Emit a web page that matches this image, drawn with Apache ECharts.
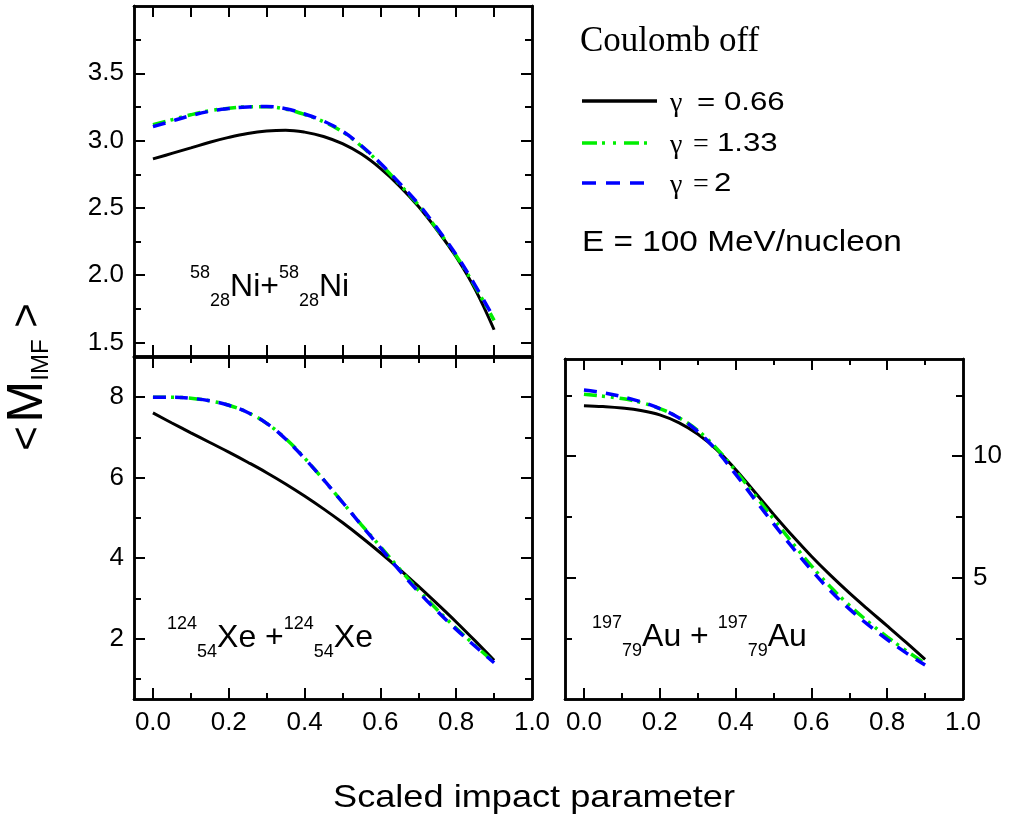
<!DOCTYPE html>
<html>
<head>
<meta charset="utf-8">
<script src="https://cdn.jsdelivr.net/npm/echarts@6/dist/echarts.min.js"></script>
<style>html,body{margin:0;padding:0;background:#fff}#c{width:1011px;height:821px}</style>
</head>
<body>
<div id="c"></div>
<script>
// ---- data ----
const impact = [0.0, 0.05, 0.1, 0.15, 0.2, 0.25, 0.3, 0.35, 0.4, 0.45, 0.5, 0.55, 0.6, 0.65, 0.7, 0.75, 0.8, 0.85, 0.9];
const niG066 = [2.864, 2.905, 2.946, 2.988, 3.024, 3.053, 3.071, 3.077, 3.063, 3.031, 2.977, 2.90, 2.794, 2.664, 2.512, 2.334, 2.135, 1.895, 1.595];
const niG133 = [3.119, 3.155, 3.192, 3.222, 3.24, 3.251, 3.252, 3.234, 3.194, 3.14, 3.065, 2.958, 2.826, 2.678, 2.522, 2.34, 2.145, 1.915, 1.665];
const niG2   = [3.104, 3.145, 3.186, 3.218, 3.238, 3.25, 3.253, 3.237, 3.198, 3.145, 3.07, 2.962, 2.832, 2.685, 2.53, 2.348, 2.152, 1.925, 1.68];
const xeG066 = [7.61, 7.36, 7.115, 6.875, 6.635, 6.385, 6.125, 5.845, 5.545, 5.225, 4.885, 4.52, 4.135, 3.73, 3.305, 2.865, 2.415, 1.945, 1.46];
const xeG133 = [8.00, 8.00, 7.975, 7.91, 7.80, 7.62, 7.35, 6.97, 6.49, 5.95, 5.39, 4.83, 4.29, 3.74, 3.21, 2.72, 2.26, 1.83, 1.41];
const xeG2   = [8.00, 8.00, 7.975, 7.91, 7.80, 7.62, 7.35, 6.96, 6.48, 5.95, 5.39, 4.82, 4.26, 3.70, 3.17, 2.68, 2.23, 1.81, 1.40];
const auG066 = [12.08, 12.04, 11.98, 11.88, 11.70, 11.38, 10.91, 10.27, 9.45, 8.53, 7.61, 6.72, 5.88, 5.10, 4.37, 3.68, 3.01, 2.33, 1.63];
const auG133 = [12.55, 12.47, 12.37, 12.21, 11.96, 11.59, 11.06, 10.32, 9.40, 8.42, 7.42, 6.43, 5.48, 4.62, 3.86, 3.18, 2.56, 1.99, 1.47];
const auG2   = [12.72, 12.61, 12.45, 12.24, 11.96, 11.58, 11.02, 10.23, 9.26, 8.23, 7.22, 6.24, 5.31, 4.46, 3.71, 3.05, 2.45, 1.90, 1.40];

const xMajor = [0, 0.2, 0.4, 0.6, 0.8];
const xMinor = [0.1, 0.3, 0.5, 0.7, 0.9];
const xLabels = [0, 0.2, 0.4, 0.6, 0.8, 1.0];
const niYMajor = [1.5, 2.0, 2.5, 3.0, 3.5];
const niYMinor = [1.75, 2.25, 2.75, 3.25, 3.75];
const xeYMajor = [2, 4, 6, 8];
const xeYMinor = [1, 3, 5, 7];
const auYMajor = [5, 10];
const auYMinor = [2.5, 7.5, 12.5];

const seriesNames = ['γ = 0.66', 'γ = 1.33', 'γ = 2'];
const legendValues = ['0.66', '1.33', '2'];

// ---- styling ----
const SANS = "'Liberation Sans', Arial, sans-serif";
const SERIF = "'Liberation Serif', 'Times New Roman', serif";
const styles = [
  {color: '#000000', width: 3, type: 'solid'},
  {color: '#00ee00', width: 3.5, type: [13, 5, 3, 6, 3, 6]},
  {color: '#0000ff', width: 3.5, type: [13, 9]}
];

const chart = echarts.init(document.getElementById('c'));

const xAxes = [], yAxes = [];
function mkX(grid, position, ticks, len, labels) {
  xAxes.push({
    type: 'value', gridIndex: grid, position: position, min: -0.05, max: 1.0,
    axisLine: {show: true, onZero: false, lineStyle: {color: '#000', width: 2.5}},
    axisTick: {show: true, inside: true, length: len, customValues: ticks, lineStyle: {color: '#000', width: 2}},
    axisLabel: labels ? {show: true, customValues: labels, formatter: v => v.toFixed(1), fontSize: 26, color: '#000', fontFamily: SANS, margin: 11} : {show: false},
    splitLine: {show: false}
  });
  return xAxes.length - 1;
}
function mkY(grid, position, min, max, ticks, len, labels, fmt) {
  yAxes.push({
    type: 'value', gridIndex: grid, position: position, min: min, max: max,
    axisLine: {show: true, onZero: false, lineStyle: {color: '#000', width: 2.5}},
    axisTick: {show: true, inside: true, length: len, customValues: ticks, lineStyle: {color: '#000', width: 2}},
    axisLabel: labels ? {show: true, customValues: labels, formatter: fmt, fontSize: 26, color: '#000', fontFamily: SANS, margin: 10} : {show: false},
    splitLine: {show: false}
  });
  return yAxes.length - 1;
}

const panels = [
  {grid: 0, ymin: 1.4, ymax: 4.0, yMaj: niYMajor, yMin: niYMinor, yLab: 'left', fmt: v => v.toFixed(1), xLab: false, xAllSame: true, data: [niG066, niG133, niG2]},
  {grid: 1, ymin: 0.5, ymax: 9.0, yMaj: xeYMajor, yMin: xeYMinor, yLab: 'left', fmt: v => String(v), xLab: true, xAllSame: false, data: [xeG066, xeG133, xeG2]},
  {grid: 2, ymin: 0, ymax: 14, yMaj: auYMajor, yMin: auYMinor, yLab: 'right', fmt: v => String(v), xLab: true, xAllSame: false, data: [auG066, auG133, auG2]}
];

const series = [];
panels.forEach(p => {
  const minLen = p.xAllSame ? 11 : 6;
  const xb = mkX(p.grid, 'bottom', xMajor, 11, p.xLab ? xLabels : null);
  mkX(p.grid, 'bottom', xMinor, minLen, null);
  mkX(p.grid, 'top', xMajor, 11, null);
  mkX(p.grid, 'top', xMinor, minLen, null);
  const yl = mkY(p.grid, 'left', p.ymin, p.ymax, p.yMaj, 11, p.yLab === 'left' ? p.yMaj : null, p.fmt);
  mkY(p.grid, 'left', p.ymin, p.ymax, p.yMin, 7, null);
  mkY(p.grid, 'right', p.ymin, p.ymax, p.yMaj, 11, p.yLab === 'right' ? p.yMaj : null, p.fmt);
  mkY(p.grid, 'right', p.ymin, p.ymax, p.yMin, 7, null);
  p.data.forEach((arr, k) => {
    series.push({
      name: seriesNames[k], type: 'line', xAxisIndex: xb, yAxisIndex: yl,
      data: impact.map((x, i) => [x, arr[i]]),
      smooth: 0.4, symbol: 'none', showSymbol: false, z: 2 + k,
      lineStyle: {color: styles[k].color, width: styles[k].width, type: styles[k].type, cap: 'butt'}
    });
  });
});

const annRich = {
  m: {fontSize: 32, fontFamily: SANS, color: '#000', lineHeight: 46, verticalAlign: 'middle'},
  sup: {fontSize: 18, fontFamily: SANS, color: '#000', lineHeight: 18, verticalAlign: 'top'},
  sub: {fontSize: 18, fontFamily: SANS, color: '#000', lineHeight: 14, verticalAlign: 'bottom'}
};
function ann(x, y, text) {
  return {type: 'text', x: x, y: y, z: 10, style: {text: text, rich: annRich, align: 'left', verticalAlign: 'top', fill: '#000'}};
}
function txt(x, y, text, font, sx) {
  return {type: 'text', x: x, y: y, z: 10, scaleX: sx || 1, style: {text: text, font: font, align: 'left', verticalAlign: 'middle', fill: '#000'}};
}

const graphic = [
  ann(190, 264, '{sup|58}{sub|28}{m|Ni+}{sup|58}{sub|28}{m|Ni}'),
  ann(167, 615, '{sup|124}{sub|54}{m|Xe +}{sup|124}{sub|54}{m|Xe}'),
  ann(592, 614, '{sup|197}{sub|79}{m|Au + }{sup|197}{sub|79}{m|Au}'),
  // y title
  {type: 'text', x: 28, y: 377, rotation: Math.PI / 2, z: 10,
    style: {text: '{a|<}{g| }{m|M}{s|IMF}{a| >}', align: 'center', verticalAlign: 'middle', fill: '#000',
      rich: {
        a: {fontSize: 42, fontFamily: SANS, lineHeight: 50, verticalAlign: 'middle', color: '#000'},
        g: {fontSize: 14, fontFamily: SANS, lineHeight: 50, verticalAlign: 'middle', color: '#000'},
        m: {fontSize: 50, fontFamily: SANS, lineHeight: 50, verticalAlign: 'middle', color: '#000'},
        s: {fontSize: 24, fontFamily: SANS, lineHeight: 24, verticalAlign: 'bottom', color: '#000'}
      }}},
  // x title
  {type: 'text', x: 534, y: 798, scaleX: 1.13, z: 10,
    style: {text: 'Scaled impact parameter', font: '32px ' + SANS, align: 'center', verticalAlign: 'middle', fill: '#000'}},
  // legend block
  txt(580, 42, 'Coulomb off', '35px ' + SERIF),
  {type: 'line', shape: {x1: 582, y1: 101, x2: 657, y2: 101}, z: 10, style: {stroke: styles[0].color, lineWidth: 3.5}},
  {type: 'line', shape: {x1: 582, y1: 143, x2: 654, y2: 143}, z: 10, style: {stroke: styles[1].color, lineWidth: 3.5, lineDash: [15, 5, 3, 8, 3, 8]}},
  {type: 'line', shape: {x1: 582, y1: 183, x2: 648, y2: 183}, z: 10, style: {stroke: styles[2].color, lineWidth: 3.5, lineDash: [14, 10]}},
  txt(670, 104, 'γ', '28px ' + SERIF),
  txt(670, 146, 'γ', '28px ' + SERIF),
  txt(670, 186, 'γ', '28px ' + SERIF),
  txt(697, 103, '= ' + legendValues[0], '26px ' + SANS, 1.2),
  txt(693, 145, '=', '28px ' + SERIF),
  txt(717, 144, legendValues[1], '26px ' + SANS, 1.2),
  txt(693, 185, '=', '28px ' + SERIF),
  txt(714, 184, legendValues[2], '26px ' + SANS, 1.2),
  txt(582, 243, 'E = 100 MeV/nucleon', '29px ' + SANS, 1.15)
];

chart.setOption({
  animation: false,
  backgroundColor: '#ffffff',
  grid: [
    {left: 134, top: 6, width: 398, height: 350},
    {left: 134, top: 357, width: 398, height: 342},
    {left: 565, top: 359, width: 398, height: 340}
  ],
  xAxis: xAxes,
  yAxis: yAxes,
  series: series,
  graphic: graphic
});
</script>
</body>
</html>
